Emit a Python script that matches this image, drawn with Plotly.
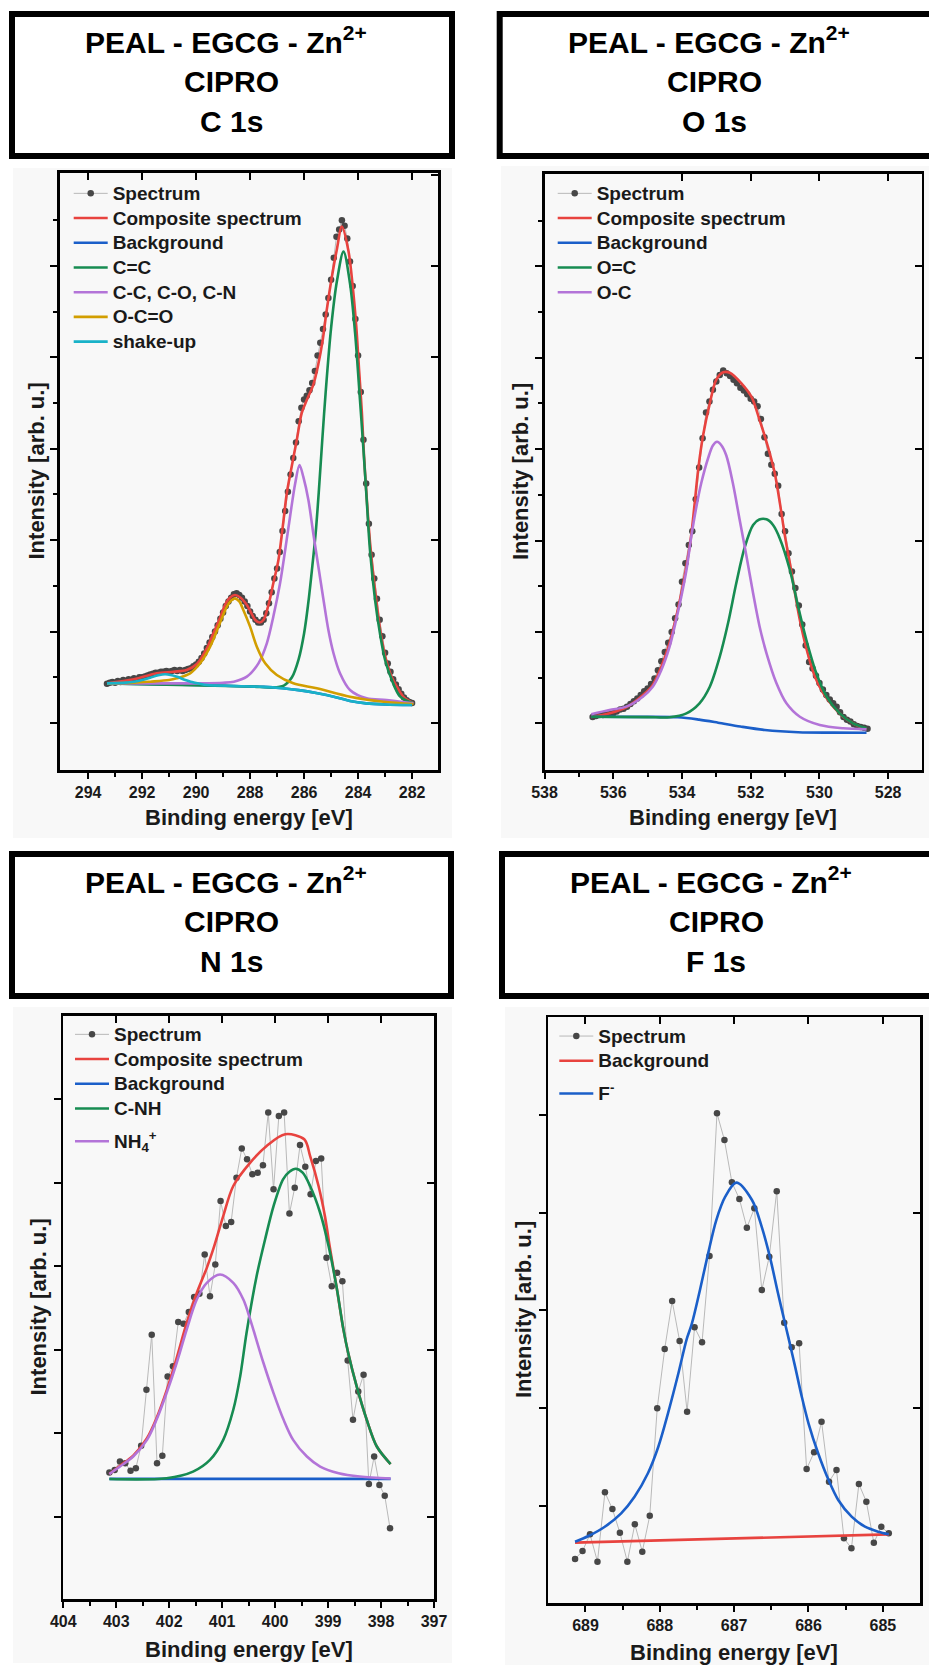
import numpy as np
import plotly.graph_objects as go

W, H = 929, 1665
FONT = "Liberation Sans, Arial, sans-serif"

# ======================= DATA =======================
# ---- C 1s ----
C1S_E = np.linspace(293.3, 282.0, 114)
C1S_SPECTRUM = [
    1.43, 1.44, 1.45, 1.44, 1.46, 1.45, 1.47, 1.46, 1.48, 1.47,
    1.49, 1.48, 1.50, 1.50, 1.51, 1.52, 1.53, 1.54, 1.55, 1.55,
    1.56, 1.56, 1.57, 1.56, 1.57, 1.58, 1.57, 1.58, 1.57, 1.58,
    1.59, 1.60, 1.62, 1.64, 1.67, 1.71, 1.76, 1.82, 1.88, 1.94,
    2.00, 2.07, 2.14, 2.21, 2.28, 2.33, 2.37, 2.41, 2.42, 2.40,
    2.37, 2.33, 2.28, 2.22, 2.17, 2.13, 2.10, 2.10, 2.13, 2.20,
    2.31, 2.43, 2.58, 2.69, 2.87, 3.10, 3.32, 3.53, 3.72, 3.90,
    4.07, 4.30, 4.45, 4.54, 4.58, 4.64, 4.72, 4.85, 5.02, 5.16,
    5.31, 5.47, 5.65, 5.85, 6.09, 6.32, 6.40, 6.50, 6.44, 6.30,
    6.05, 5.78, 5.42, 5.02, 4.62, 4.10, 3.62, 3.18, 2.84, 2.58,
    2.36, 2.13, 1.95, 1.77, 1.65, 1.56, 1.48, 1.42, 1.37, 1.32,
    1.28, 1.25, 1.23, 1.22]
C1S_COMP_E = [293.3, 292.3, 291.46, 290.84, 290.35, 289.97, 289.6, 289.36, 289.1, 288.93,
              288.75, 288.56, 288.35, 288.12, 287.95, 287.81, 287.65, 287.5, 287.32, 287.14,
              286.95, 286.79, 286.64, 286.46, 286.27, 286.09, 285.9, 285.66, 285.47, 285.31,
              285.16, 284.97, 284.79, 284.6, 284.36, 284.2, 284.07, 283.96, 283.86, 283.78,
              283.67, 283.55, 283.35, 283.16, 282.97, 282.75, 282.57, 282.3, 281.95]
C1S_COMP = [1.434, 1.478, 1.544, 1.561, 1.58, 1.645, 1.817, 1.981, 2.16, 2.291,
            2.37, 2.40, 2.37, 2.291, 2.20, 2.127, 2.10, 2.13, 2.291, 2.528,
            2.783, 3.148, 3.513, 3.804, 4.096, 4.388, 4.534, 4.70, 4.93, 5.19,
            5.519, 5.883, 6.175, 6.43, 6.17, 5.78, 5.35, 4.85, 4.40, 3.92,
            3.42, 2.95, 2.40, 1.98, 1.70, 1.50, 1.40, 1.28, 1.216]
C1S_BG_E = [293.3, 291.1, 289.6, 288.6, 287.5, 286.8, 286.2, 285.5, 284.9, 284.3, 283.7, 283.0, 282.0]
C1S_BG = [1.434, 1.423, 1.413, 1.405, 1.395, 1.380, 1.360, 1.325, 1.288, 1.241, 1.215, 1.203, 1.197]
C1S_CC_E = [293.3, 288.0, 287.2, 286.75, 286.45, 286.2, 286.0, 285.85, 285.7, 285.57,
            285.45, 285.33, 285.2, 285.0, 284.78, 284.54, 284.30, 284.11, 283.93, 283.80,
            283.68, 283.56, 283.37, 283.19, 283.0, 282.75, 282.44, 281.95]
C1S_CC = [1.434, 1.40, 1.39, 1.41, 1.50, 1.70, 1.98, 2.30, 2.70, 3.08,
          3.55, 4.08, 4.62, 5.32, 5.84, 6.157, 5.81, 5.264, 4.534, 3.987,
          3.44, 2.893, 2.346, 1.981, 1.689, 1.47, 1.288, 1.216]
C1S_CCO_E = [293.3, 291.0, 289.85, 289.0, 288.6, 288.12, 287.69, 287.38, 287.14, 286.89,
             286.70, 286.52, 286.33, 286.17, 286.03, 285.84, 285.66, 285.47, 285.28, 285.10,
             284.91, 284.67, 284.30, 283.68, 282.94, 281.95]
C1S_CCO = [1.434, 1.434, 1.434, 1.44, 1.452, 1.507, 1.653, 1.872, 2.163, 2.528,
           2.893, 3.257, 3.62, 3.823, 3.695, 3.44, 3.076, 2.71, 2.346, 2.018,
           1.763, 1.544, 1.361, 1.27, 1.252, 1.216]
C1S_OCO_E = [293.3, 292.3, 291.7, 291.0, 290.72, 290.22, 289.85, 289.48, 289.17, 288.86,
             288.7, 288.56, 288.4, 288.25, 288.0, 287.75, 287.44, 287.01, 286.4, 285.53,
             284.3, 283.06, 281.95]
C1S_OCO = [1.434, 1.44, 1.452, 1.47, 1.489, 1.544, 1.653, 1.835, 2.054, 2.272,
           2.34, 2.364, 2.33, 2.236, 2.054, 1.835, 1.653, 1.525, 1.434, 1.380,
           1.288, 1.233, 1.208]
C1S_SHAKE_E = [293.3, 292.6, 292.3, 292.0, 291.7, 291.4, 291.15, 290.9, 290.7, 290.4,
               290.2, 289.9, 289.6, 288.6, 287.5, 286.8, 286.2, 285.5, 284.9, 284.3,
               283.7, 283.0, 282.0]
C1S_SHAKE = [1.434, 1.442, 1.452, 1.47, 1.496, 1.522, 1.533, 1.522, 1.505, 1.47,
             1.452, 1.432, 1.415, 1.405, 1.395, 1.38, 1.36, 1.325, 1.288, 1.241,
             1.215, 1.203, 1.197]

# ---- O 1s ----
O1S_E = np.linspace(536.6, 528.6, 81)
O1S_SPECTRUM = [
    1.07, 1.08, 1.09, 1.09, 1.10, 1.10, 1.11, 1.13, 1.15, 1.16,
    1.18, 1.21, 1.24, 1.27, 1.31, 1.35, 1.38, 1.43, 1.49, 1.58,
    1.68, 1.78, 1.88, 2.00, 2.15, 2.30, 2.55, 2.75, 2.95, 3.10,
    3.45, 3.80, 4.12, 4.40, 4.52, 4.65, 4.74, 4.81, 4.86, 4.83,
    4.80, 4.76, 4.72, 4.67, 4.64, 4.60, 4.55, 4.52, 4.47, 4.33,
    4.13, 3.95, 3.83, 3.73, 3.60, 3.29, 3.10, 2.86, 2.66, 2.48,
    2.29, 2.08, 1.85, 1.67, 1.60, 1.52, 1.44, 1.37, 1.31, 1.26,
    1.22, 1.18, 1.12, 1.07, 1.04, 1.02, 0.99, 0.97, 0.96, 0.95,
    0.94]
O1S_COMP_E = [536.64, 536.1, 535.6, 535.1, 534.85, 534.6, 534.36, 534.17, 534.02, 533.87,
              533.73, 533.63, 533.53, 533.39, 533.19, 533.0, 532.8, 532.61, 532.27, 531.98,
              531.74, 531.5, 531.3, 531.15, 531.0, 530.86, 530.71, 530.57, 530.38, 530.13,
              529.89, 529.6, 529.31, 528.93, 528.63]
O1S_COMP = [1.07, 1.11, 1.18, 1.32, 1.42, 1.62, 1.88, 2.16, 2.42, 2.72,
            3.06, 3.41, 3.77, 4.14, 4.50, 4.76, 4.84, 4.836, 4.72, 4.573,
            4.318, 4.026, 3.735, 3.407, 3.04, 2.75, 2.42, 2.13, 1.82, 1.51,
            1.33, 1.182, 1.072, 0.981, 0.94]
O1S_BG_E = [536.64, 535.5, 534.12, 533.5, 532.95, 532.3, 531.59, 530.62, 529.6, 528.63]
O1S_BG = [1.072, 1.07, 1.066, 1.04, 1.007, 0.965, 0.927, 0.902, 0.898, 0.897]
O1S_OC2_E = [536.64, 535.0, 534.36, 533.87, 533.49, 533.19, 532.90, 532.66, 532.42, 532.17,
             531.93, 531.75, 531.54, 531.35, 531.15, 530.86, 530.62, 530.38, 530.09, 529.79,
             529.41, 529.02, 528.63]
O1S_OC2 = [1.072, 1.068, 1.066, 1.109, 1.219, 1.40, 1.729, 2.094, 2.532, 2.932,
           3.17, 3.23, 3.232, 3.17, 3.02, 2.677, 2.276, 1.911, 1.547, 1.29,
           1.109, 1.0, 0.945]
O1S_OC_E = [536.64, 536.11, 535.62, 535.14, 534.85, 534.60, 534.36, 534.17, 534.02, 533.87,
            533.73, 533.58, 533.44, 533.24, 533.1, 532.98, 532.85, 532.71, 532.52, 532.32,
            532.12, 531.93, 531.74, 531.54, 531.25, 530.96, 530.57, 529.99, 529.31, 528.63]
O1S_OC = [1.10, 1.146, 1.182, 1.291, 1.40, 1.583, 1.838, 2.13, 2.385, 2.677,
          3.04, 3.37, 3.626, 3.90, 4.04, 4.08, 4.04, 3.93, 3.63, 3.224,
          2.823, 2.422, 2.057, 1.766, 1.438, 1.219, 1.072, 0.981, 0.945, 0.934]

# ---- N 1s ----
N1S_E = np.linspace(403.13, 397.83, 54)
N1S_SPECTRUM = [
    1.53, 1.56, 1.66, 1.64, 1.55, 1.58, 1.85, 2.52, 3.18, 1.64,
    1.73, 2.68, 2.80, 3.33, 3.31, 3.45, 3.63, 3.67, 4.14, 3.64,
    4.02, 4.78, 4.48, 4.53, 5.06, 5.41, 5.28, 5.10, 5.12, 5.21,
    5.84, 4.92, 5.80, 5.84, 4.63, 4.94, 5.45, 5.19, 4.86, 5.26,
    5.29, 4.10, 3.76, 3.92, 3.82, 2.87, 2.16, 2.50, 2.70, 1.39,
    1.72, 1.38, 1.25, 0.86]
N1S_COMP_E = [403.13, 402.93, 402.68, 402.42, 402.24, 402.05, 401.86, 401.67, 401.48, 401.29,
              401.17, 400.98, 400.79, 400.47, 400.16, 399.81, 399.45, 399.34, 399.18, 399.06,
              398.97, 398.84, 398.71, 398.62, 398.46, 398.27, 398.08, 397.82]
N1S_COMP = [1.51, 1.61, 1.73, 1.94, 2.18, 2.51, 2.90, 3.32, 3.68, 3.98,
            4.20, 4.60, 4.96, 5.24, 5.44, 5.58, 5.52, 5.32, 4.96, 4.60,
            4.24, 3.75, 3.24, 2.96, 2.56, 2.16, 1.84, 1.63]
N1S_BG_E = [403.13, 397.82]
N1S_BG = [1.452, 1.452]
N1S_CNH_E = [403.13, 402.05, 401.55, 401.23, 400.98, 400.79, 400.66, 400.54, 400.35, 400.19,
             400.03, 399.85, 399.73, 399.61, 399.48, 399.34, 399.15, 398.99, 398.84, 398.71,
             398.62, 398.46, 398.27, 398.08, 397.82]
N1S_CNH = [1.45, 1.46, 1.54, 1.68, 1.92, 2.28, 2.68, 3.20, 3.88, 4.32,
           4.72, 5.04, 5.13, 5.166, 5.12, 4.96, 4.64, 4.24, 3.75, 3.24,
           2.96, 2.56, 2.16, 1.84, 1.63]
N1S_NH4_E = [403.13, 402.93, 402.68, 402.42, 402.24, 402.05, 401.86, 401.67, 401.48, 401.29,
             401.04, 400.79, 400.60, 400.47, 400.22, 400.03, 399.84, 399.66, 399.40, 399.15,
             398.80, 398.40, 397.82]
N1S_NH4 = [1.51, 1.60, 1.72, 1.92, 2.16, 2.48, 2.84, 3.24, 3.60, 3.80,
           3.90, 3.80, 3.60, 3.36, 2.84, 2.48, 2.16, 1.92, 1.72, 1.60,
           1.52, 1.48, 1.456]

# ---- F 1s ----
F1S_E = np.linspace(689.14, 684.92, 43)
F1S_SPECTRUM = [
    0.454, 0.535, 0.706, 0.426, 1.136, 0.965, 0.723, 0.426, 0.809, 0.528,
    0.897, 1.997, 2.604, 3.095, 2.686, 1.962, 2.826, 2.672, 3.556, 5.017,
    4.743, 4.31, 4.14, 3.846, 4.044, 3.208, 3.549, 4.22, 2.873, 2.621,
    2.662, 1.375, 1.546, 1.859, 1.245, 1.365, 0.666, 0.563, 1.221, 1.040,
    0.620, 0.784, 0.716]
F1S_BG_E = [689.14, 684.92]
F1S_BG = [0.621, 0.706]
F1S_F_E = [689.14, 688.96, 688.74, 688.52, 688.34, 688.16, 688.02, 687.89, 687.75, 687.64,
           687.57, 687.46, 687.35, 687.24, 687.12, 686.97, 686.76, 686.63, 686.52, 686.41,
           686.32, 686.27, 686.18, 686.09, 686.0, 685.87, 685.73, 685.60, 685.42, 685.24,
           685.06, 684.92]
F1S_F = [0.631, 0.689, 0.784, 0.921, 1.091, 1.331, 1.603, 1.945, 2.355, 2.70,
         2.86, 3.208, 3.583, 3.924, 4.163, 4.307, 4.129, 3.856, 3.549, 3.174,
         2.88, 2.72, 2.423, 2.115, 1.843, 1.536, 1.262, 1.058, 0.887, 0.784,
         0.733, 0.706]

TITLE_LINE1 = "PEAL - EGCG - Zn<sup>2+</sup>"
TITLE_LINE2 = "CIPRO"
CORE_LEVELS = ["C 1s", "O 1s", "N 1s", "F 1s"]

# ======================= STYLE =======================
SPEC_LINE = "#b9b9b9"
SPEC_DOT = "#474747"
RED = "#e8433f"
BLUE = "#1b5fc9"
GREEN = "#178c52"
PURPLE = "#b374d8"
ORANGE = "#d29e00"
CYAN = "#19b2c8"
PANEL_BG = "#f8f8f8"
LW = 2.6
ITEMW = 34


def px(x):
    return x / W


def py(y):
    return 1 - y / H


def leg_label(t):
    return '<span style="font-size:19px">' + t + '</span>'


fig = go.Figure()


def add_spectrum(x, y, xa, ya, leg, group=None):
    fig.add_trace(go.Scatter(
        x=x, y=y, mode="lines+markers", name=leg_label("Spectrum"),
        line=dict(color=SPEC_LINE, width=1),
        marker=dict(color=SPEC_DOT, size=6.5),
        xaxis=xa, yaxis=ya, legend=leg, legendgroup=group, hoverinfo="skip"))


def add_curve(name, x, y, color, xa, ya, leg, group=None):
    fig.add_trace(go.Scatter(
        x=x, y=y, mode="lines", name=leg_label(name),
        line=dict(color=color, width=LW, shape="spline", smoothing=0.9),
        xaxis=xa, yaxis=ya, legend=leg, legendgroup=group, hoverinfo="skip"))


# C 1s
add_spectrum(C1S_E, C1S_SPECTRUM, "x", "y", "legend")
add_curve("Composite spectrum", C1S_COMP_E, C1S_COMP, RED, "x", "y", "legend")
add_curve("Background", C1S_BG_E, C1S_BG, BLUE, "x", "y", "legend")
add_curve("C=C", C1S_CC_E, C1S_CC, GREEN, "x", "y", "legend")
add_curve("C-C, C-O, C-N", C1S_CCO_E, C1S_CCO, PURPLE, "x", "y", "legend")
add_curve("O-C=O", C1S_OCO_E, C1S_OCO, ORANGE, "x", "y", "legend")
add_curve("shake-up", C1S_SHAKE_E, C1S_SHAKE, CYAN, "x", "y", "legend")

# O 1s
add_spectrum(O1S_E, O1S_SPECTRUM, "x2", "y2", "legend2")
add_curve("Composite spectrum", O1S_COMP_E, O1S_COMP, RED, "x2", "y2", "legend2")
add_curve("Background", O1S_BG_E, O1S_BG, BLUE, "x2", "y2", "legend2")
add_curve("O=C", O1S_OC2_E, O1S_OC2, GREEN, "x2", "y2", "legend2")
add_curve("O-C", O1S_OC_E, O1S_OC, PURPLE, "x2", "y2", "legend2")

# N 1s
add_spectrum(N1S_E, N1S_SPECTRUM, "x3", "y3", "legend3", "a")
add_curve("Composite spectrum", N1S_COMP_E, N1S_COMP, RED, "x3", "y3", "legend3", "a")
add_curve("Background", N1S_BG_E, N1S_BG, BLUE, "x3", "y3", "legend3", "a")
add_curve("C-NH", N1S_CNH_E, N1S_CNH, GREEN, "x3", "y3", "legend3", "a")
add_curve("NH<sub>4</sub><sup>+</sup>", N1S_NH4_E, N1S_NH4, PURPLE, "x3", "y3", "legend3", "b")

# F 1s
add_spectrum(F1S_E, F1S_SPECTRUM, "x4", "y4", "legend4", "a")
add_curve("Background", F1S_BG_E, F1S_BG, RED, "x4", "y4", "legend4", "a")
add_curve("F<sup>-</sup>", F1S_F_E, F1S_F, BLUE, "x4", "y4", "legend4", "b")

# ======================= AXES =======================
PANELS = [
    dict(n=1, dx=(60, 438), dy=(173, 770), xr=[295.04, 281.04],
         xt=[294, 292, 290, 288, 286, 284, 282], xm=[293, 291, 289, 287, 285, 283],
         yr=[0.486, 7.017], yt=[1, 2, 3, 4, 5, 6], ym=[1.5, 2.5, 3.5, 4.5, 5.5, 6.5],
         top=[294, 292, 290, 288, 286, 284, 282], right=[1, 2, 3, 4, 5, 6, 7],
         box=(12, 14, 452, 156), cx=231, bg=(13, 168, 452, 838),
         ytitle=(36, 471.5), xtitle=(249, 818), leg=(112.7, 176), order="normal"),
    dict(n=2, dx=(544.5, 921.5), dy=(174, 770), xr=[538, 527.03],
         xt=[538, 536, 534, 532, 530, 528], xm=[537, 535, 533, 531, 529],
         yr=[0.489, 7.01], yt=[1, 2, 3, 4, 5, 6], ym=[1.5, 2.5, 3.5, 4.5, 5.5, 6.5],
         top=[534, 532, 530, 528], right=[1, 2, 3, 4, 5, 6, 7],
         box=(499.7, 14, 950, 156), cx=714, bg=(501, 166, 929, 838),
         ytitle=(521, 472), xtitle=(733, 818), leg=(596.7, 176), order="normal"),
    dict(n=3, dx=(63.3, 434), dy=(1015.7, 1599.3), xr=[404, 397],
         xt=[404, 403, 402, 401, 400, 399, 398, 397],
         xm=[403.5, 402.5, 401.5, 400.5, 399.5, 398.5, 397.5],
         yr=[0.01, 7.0], yt=[1, 2, 3, 4, 5, 6], ym=None,
         top=[403, 402, 401, 400, 399, 398], right=[1, 3, 5],
         box=(12, 854, 451, 996), cx=231, bg=(13, 1007, 452, 1663),
         ytitle=(38, 1307.5), xtitle=(249, 1649), leg=(114, 1017), order="grouped"),
    dict(n=4, dx=(548.3, 920), dy=(1017.3, 1603.3), xr=[689.5, 684.5],
         xt=[689, 688, 687, 686, 685], xm=[688.5, 687.5, 686.5, 685.5],
         yr=[0, 6.0], yt=[1, 2, 3, 4, 5], ym=None,
         top=[689, 688, 687, 686, 685], right=[2, 4],
         box=(502, 854, 950, 996), cx=716, bg=(505, 1007, 929, 1665),
         ytitle=(523, 1310), xtitle=(734, 1652), leg=(598.3, 1018.7), order="grouped"),
]

layout_axes = {}
shapes = []
annotations = []
legends = {}

for p in PANELS:
    n = p["n"]
    no = n + 4
    sfx = "" if n == 1 else str(n)
    xid, yid = "x" + sfx, "y" + sfx
    xo, yo = "x" + str(no), "y" + str(no)
    xdom = [px(p["dx"][0]), px(p["dx"][1])]
    ydom = [py(p["dy"][1]), py(p["dy"][0])]

    xa = dict(domain=xdom, anchor=yid, range=p["xr"], showline=True, linecolor="black",
              linewidth=2.6, mirror=False, showgrid=False, zeroline=False,
              ticks="outside", ticklen=6, tickwidth=2, tickcolor="black",
              tickmode="array", tickvals=p["xt"], automargin=False,
              tickfont=dict(family=FONT, size=16, color="#1a1a1a", weight="bold"),
              minor=dict(tickmode="array", tickvals=p["xm"], ticks="outside", ticklen=4,
                         tickwidth=2, tickcolor="black", showgrid=False),
              fixedrange=True)
    ya = dict(domain=ydom, anchor=xid, range=p["yr"], showline=True, linecolor="black",
              linewidth=2.6, mirror=False, showgrid=False, zeroline=False, automargin=False,
              ticks="outside", ticklen=7, tickwidth=2, tickcolor="black",
              tickmode="array", tickvals=p["yt"], showticklabels=False, fixedrange=True)
    if p["ym"]:
        ya["minor"] = dict(tickmode="array", tickvals=p["ym"], ticks="outside", ticklen=4,
                           tickwidth=2, tickcolor="black", showgrid=False)
    xtop = dict(overlaying=xid, side="top", anchor=yid, domain=xdom, range=p["xr"],
                showline=True, linecolor="black", linewidth=2.6, showgrid=False,
                zeroline=False, ticks="inside", ticklen=7, tickwidth=2, tickcolor="black",
                tickmode="array", tickvals=p["top"], showticklabels=False, fixedrange=True,
                automargin=False)
    yright = dict(overlaying=yid, side="right", anchor=xid, domain=ydom, range=p["yr"],
                  showline=True, linecolor="black", linewidth=2.6, showgrid=False,
                  zeroline=False, ticks="inside", ticklen=7, tickwidth=2, tickcolor="black",
                  tickmode="array", tickvals=p["right"], showticklabels=False,
                  fixedrange=True, automargin=False)
    layout_axes["xaxis" + sfx] = xa
    layout_axes["yaxis" + sfx] = ya
    layout_axes["xaxis" + str(no)] = xtop
    layout_axes["yaxis" + str(no)] = yright
    fig.add_trace(go.Scatter(x=[None], y=[None], xaxis=xo, yaxis=yo, mode="markers",
                             showlegend=False, hoverinfo="skip"))

    # grey panel
    b = p["bg"]
    shapes.append(dict(type="rect", xref="paper", yref="paper", layer="below",
                       x0=px(b[0]), x1=px(b[2]), y0=py(b[3]), y1=py(b[1]),
                       fillcolor=PANEL_BG, line=dict(width=0)))
    # title box
    bx = p["box"]
    shapes.append(dict(type="rect", xref="paper", yref="paper", layer="above",
                       x0=px(bx[0]), x1=px(bx[2]), y0=py(bx[3]), y1=py(bx[1]),
                       fillcolor="rgba(0,0,0,0)", line=dict(color="black", width=6)))
    base = 41.7 if n <= 2 else 881.7
    for k, txt in enumerate([TITLE_LINE1, TITLE_LINE2, CORE_LEVELS[n - 1]]):
        cx = p["cx"] - (5 if k == 0 else 0)
        cy = base + 40 * k - (2 if k == 0 else 0)
        annotations.append(dict(xref="paper", yref="paper", x=px(cx),
                                y=py(cy), text=txt, showarrow=False,
                                xanchor="center", yanchor="middle",
                                font=dict(family=FONT, size=30, color="black", weight="bold")))
    # axis titles
    annotations.append(dict(xref="paper", yref="paper", x=px(p["ytitle"][0]),
                            y=py(p["ytitle"][1]), text="Intensity [arb. u.]", textangle=-90,
                            showarrow=False, xanchor="center", yanchor="middle",
                            font=dict(family=FONT, size=22, color="#1a1a1a", weight="bold")))
    annotations.append(dict(xref="paper", yref="paper", x=px(p["xtitle"][0]),
                            y=py(p["xtitle"][1]), text="Binding energy [eV]",
                            showarrow=False, xanchor="center", yanchor="middle",
                            font=dict(family=FONT, size=22, color="#1a1a1a", weight="bold")))
    lk = "legend" + sfx
    legends[lk] = dict(x=px(p["leg"][0] - ITEMW - 10), y=py(p["leg"][1]),
                       xanchor="left", yanchor="top",
                       bgcolor="rgba(0,0,0,0)", borderwidth=0, itemwidth=ITEMW,
                       tracegroupgap=8, traceorder=p["order"],
                       font=dict(family=FONT, size=16.7, color="#1a1a1a", weight="bold"))

fig.update_layout(
    width=W, height=H, autosize=False,
    margin=dict(l=0, r=0, t=0, b=0, pad=0, autoexpand=False),
    paper_bgcolor="white", plot_bgcolor=PANEL_BG,
    font=dict(family=FONT, color="#1a1a1a"),
    showlegend=True, shapes=shapes, annotations=annotations,
    **layout_axes, **legends)

fig.write_html("out.html",
               config={"displayModeBar": False, "staticPlot": True},
               post_script="document.body.style.margin='0';document.body.style.overflow='hidden';")
